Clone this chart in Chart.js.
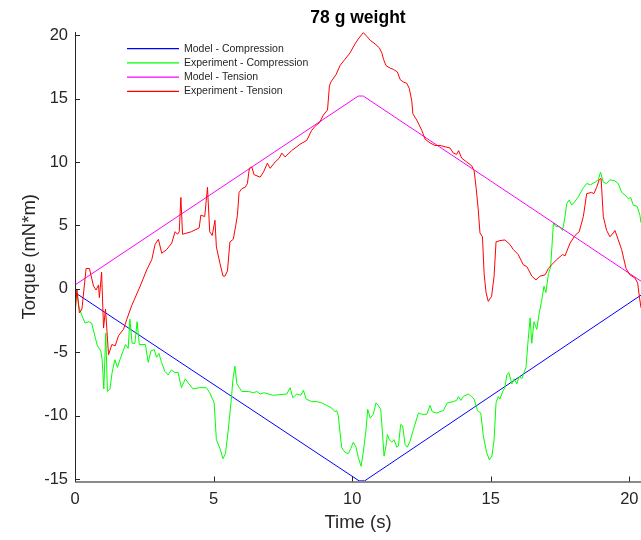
<!DOCTYPE html>
<html>
<head>
<meta charset="utf-8">
<script src="https://cdn.jsdelivr.net/npm/chart.js@4/dist/chart.umd.min.js"></script>
<style>
  html, body { margin: 0; padding: 0; background: #ffffff; }
  #wrap { width: 641px; height: 540px; }
</style>
</head>
<body>
<div id="wrap"><canvas id="c" width="641" height="540"></canvas></div>
<script>
// ---- Data ----
const titleText = "78 g weight";
const xLabel = "Time (s)";
const yLabel = "Torque (mN*m)";
const seriesNames = ["Model - Compression", "Experiment - Compression", "Model - Tension", "Experiment - Tension"];
const xTicks = [0, 5, 10, 15, 20];
const yTicks = [-15, -10, -5, 0, 5, 10, 15, 20];

const modelCompT = [0, 10.25, 10.45, 20.42];
const modelCompV = [-0.3, -15.15, -15.15, -0.5];

const modelTensT = [0, 10.22, 10.40, 20.42];
const modelTensV = [0.3, 15.2, 15.2, 0.6];

const expCompT = [0.00, 0.02, 0.09, 0.14, 0.23, 0.36, 0.50, 0.60, 0.69, 0.81, 0.93, 0.98, 1.04, 1.11, 1.17, 1.26, 1.34, 1.44, 1.53, 1.62,
  1.74, 1.82, 1.92, 1.98, 2.06, 2.16, 2.24, 2.32, 2.42, 2.54, 2.64, 2.74, 2.86, 2.94, 3.03, 3.12, 3.24, 3.36, 3.48, 3.60,
  3.72, 3.84, 3.98, 4.11, 4.26, 4.50, 4.74, 4.86, 5.02, 5.10, 5.23, 5.34, 5.43, 5.52, 5.59, 5.64, 5.70, 5.77, 5.84, 6.02,
  6.26, 6.44, 6.56, 6.68, 6.82, 6.98, 7.16, 7.64, 7.76, 7.86, 8.00, 8.15, 8.24, 8.34, 8.54, 8.72, 8.90, 9.08, 9.26, 9.38,
  9.44, 9.50, 9.56, 9.62, 9.74, 9.86, 9.95, 10.04, 10.14, 10.22, 10.32, 10.40, 10.50, 10.56, 10.65, 10.76, 10.86, 10.94, 11.03, 11.09,
  11.15, 11.22, 11.27, 11.34, 11.43, 11.51, 11.61, 11.67, 11.75, 11.82, 11.91, 11.99, 12.09, 12.21, 12.39, 12.51, 12.69, 12.81, 12.89, 13.05,
  13.29, 13.43, 13.65, 13.77, 13.83, 13.92, 14.01, 14.19, 14.31, 14.40, 14.52, 14.64, 14.73, 14.85, 14.95, 15.04, 15.12, 15.19, 15.27, 15.33,
  15.43, 15.51, 15.58, 15.65, 15.76, 15.84, 15.94, 16.03, 16.12, 16.20, 16.27, 16.35, 16.42, 16.48, 16.56, 16.66, 16.75, 16.84, 16.92, 16.99,
  17.08, 17.16, 17.26, 17.35, 17.47, 17.59, 17.68, 17.74, 17.83, 17.92, 18.04, 18.16, 18.32, 18.46, 18.60, 18.76, 18.88, 18.96, 19.06, 19.18,
  19.30, 19.48, 19.60, 19.72, 19.84, 19.96, 20.05, 20.14, 20.28, 20.38, 20.42];
const expCompV = [0.1, 0.05, -0.6, -1.4, -2.0, -2.7, -2.6, -2.7, -3.5, -4.5, -4.9, -5.6, -7.9, -3.5, -8.1, -7.9, -6.6, -5.6, -6.2, -5.6,
  -4.9, -4.4, -4.7, -2.4, -4.3, -4.3, -2.6, -4.4, -4.4, -4.4, -5.8, -4.9, -4.8, -5.4, -5.1, -5.8, -6.5, -6.8, -6.4, -6.6,
  -6.6, -7.8, -7.1, -7.5, -7.9, -7.8, -7.8, -8.2, -9.0, -11.9, -12.6, -13.4, -13.0, -11.3, -9.8, -8.7, -7.1, -6.1, -7.5, -8.1,
  -8.1, -8.2, -8.1, -8.3, -8.2, -8.3, -8.4, -8.3, -7.8, -8.6, -8.3, -8.4, -8.0, -8.7, -8.9, -8.9, -9.0, -9.2, -9.4, -9.7,
  -9.6, -10.0, -11.3, -12.5, -12.9, -13.0, -12.6, -12.1, -12.5, -13.3, -14.0, -12.9, -11.1, -9.5, -10.2, -9.9, -9.0, -9.2, -9.5, -11.3,
  -13.2, -12.4, -11.5, -11.9, -12.1, -11.9, -12.5, -12.4, -10.7, -10.8, -12.3, -12.5, -12.0, -11.1, -9.8, -9.9, -9.9, -9.2, -9.7, -9.8,
  -9.6, -9.0, -8.9, -8.8, -8.5, -8.8, -8.5, -8.3, -8.5, -8.7, -9.6, -9.8, -11.6, -12.9, -13.5, -13.2, -11.9, -9.0, -8.5, -8.7,
  -8.1, -7.8, -6.8, -6.6, -7.5, -7.1, -7.5, -6.9, -7.1, -6.6, -6.2, -4.0, -2.3, -4.3, -2.6, -3.2, -1.9, -0.9, 0.2, -0.3,
  1.2, 1.7, 5.2, 4.9, 4.9, 4.6, 5.7, 6.7, 7.0, 6.6, 6.9, 7.25, 7.9, 8.3, 8.2, 8.4, 8.6, 9.2, 8.4, 8.3,
  8.6, 8.5, 8.3, 7.6, 7.4, 7.1, 7.2, 6.6, 6.5, 5.8, 5.2];

const expTensT = [0.00, 0.07, 0.16, 0.25, 0.40, 0.52, 0.67, 0.76, 0.85, 0.88, 0.96, 1.03, 1.10, 1.21, 1.33, 1.45, 1.57, 1.75, 1.87, 2.05,
  2.13, 2.35, 2.59, 2.77, 2.89, 3.01, 3.13, 3.31, 3.49, 3.61, 3.70, 3.76, 3.82, 3.88, 4.20, 4.48, 4.54, 4.68, 4.78, 4.86,
  4.95, 5.05, 5.10, 5.23, 5.34, 5.41, 5.50, 5.59, 5.71, 5.80, 5.86, 5.92, 6.02, 6.14, 6.22, 6.29, 6.38, 6.46, 6.68, 6.80,
  6.94, 7.04, 7.22, 7.37, 7.46, 7.58, 7.82, 8.12, 8.36, 8.54, 8.70, 8.82, 8.96, 9.11, 9.18, 9.23, 9.42, 9.56, 9.74, 9.92,
  10.10, 10.22, 10.40, 10.53, 10.65, 10.83, 10.98, 11.07, 11.13, 11.22, 11.37, 11.49, 11.63, 11.73, 11.85, 11.97, 12.06, 12.15, 12.19, 12.33,
  12.51, 12.63, 12.81, 12.99, 13.17, 13.35, 13.53, 13.65, 13.77, 13.84, 13.95, 14.13, 14.31, 14.40, 14.47, 14.55, 14.61, 14.70, 14.76, 14.83,
  14.91, 15.03, 15.12, 15.19, 15.33, 15.51, 15.69, 15.81, 15.99, 16.17, 16.30, 16.48, 16.63, 16.78, 16.96, 17.08, 17.20, 17.38, 17.59, 17.68,
  17.86, 18.04, 18.19, 18.34, 18.46, 18.64, 18.72, 18.82, 18.91, 18.98, 19.06, 19.18, 19.30, 19.42, 19.48, 19.60, 19.72, 19.88, 20.02, 20.20,
  20.30, 20.36, 20.42];
const expTensV = [-2.0, -0.1, -1.9, -1.6, 1.6, 1.6, 0.2, -0.1, 0.3, -0.7, 1.3, -3.1, -1.6, -5.2, -4.4, -4.5, -3.7, -3.2, -2.4, -1.3,
  -0.9, 0.2, 1.5, 2.3, 3.5, 3.9, 2.8, 3.1, 3.6, 4.5, 4.3, 4.5, 7.2, 4.3, 4.5, 4.8, 5.8, 5.7, 8.0, 4.5,
  4.2, 5.4, 3.3, 2.0, 1.0, 1.0, 1.4, 3.7, 3.9, 5.0, 5.8, 7.6, 7.9, 8.0, 8.3, 9.5, 9.6, 9.0, 8.8, 9.2,
  9.9, 9.5, 10.0, 10.3, 10.7, 10.4, 10.9, 11.4, 11.7, 12.5, 12.9, 13.1, 13.7, 14.1, 16.0, 16.3, 16.9, 17.6, 18.1, 18.6,
  19.3, 19.7, 20.2, 19.9, 19.6, 19.3, 19.0, 18.6, 18.1, 17.6, 17.4, 17.3, 17.1, 16.5, 16.3, 16.2, 15.8, 14.8, 13.8, 13.3,
  12.5, 11.8, 11.5, 11.3, 11.3, 11.2, 11.1, 10.7, 10.6, 10.9, 10.3, 10.0, 9.7, 9.3, 8.0, 6.2, 4.4, 4.1, 1.2, -0.3,
  -1.0, -0.6, 1.0, 3.7, 3.8, 3.85, 3.5, 3.1, 2.7, 1.9, 1.75, 1.0, 0.7, 1.0, 1.1, 1.6, 1.9, 2.3, 2.7, 2.6,
  3.6, 4.2, 4.5, 5.7, 7.5, 7.6, 7.5, 8.0, 8.6, 8.7, 5.7, 4.6, 4.1, 4.4, 4.6, 3.85, 3.1, 1.6, 1.1, 0.85,
  0.45, -0.6, -1.5];

const seriesColors = ["#0000ff", "#00ff00", "#ff00ff", "#ff0000"];

function pts(t, v) { return t.map((x, i) => ({ x: x, y: v[i] })); }

const FONT = "'Liberation Sans', Arial, Helvetica, sans-serif";

const datasets = [
  { label: seriesNames[0], data: pts(modelCompT, modelCompV), borderColor: seriesColors[0], order: 3 },
  { label: seriesNames[1], data: pts(expCompT, expCompV), borderColor: seriesColors[1], order: 2 },
  { label: seriesNames[2], data: pts(modelTensT, modelTensV), borderColor: seriesColors[2], order: 1 },
  { label: seriesNames[3], data: pts(expTensT, expTensV), borderColor: seriesColors[3], order: 0 }
].map(d => Object.assign(d, { borderWidth: 1, pointRadius: 0, tension: 0, fill: false }));

const axesPlugin = {
  id: 'matlabAxes',
  afterDatasetsDraw(chart) {
    const ctx = chart.ctx;
    const ca = chart.chartArea;
    const xs = chart.scales.x, ys = chart.scales.y;
    ctx.save();
    // bottom axis
    ctx.strokeStyle = '#8a8a8a';
    ctx.lineWidth = 2;
    ctx.beginPath();
    ctx.moveTo(ca.left, ca.bottom + 0.5);
    ctx.lineTo(ca.right, ca.bottom + 0.5);
    ctx.stroke();
    // left axis
    ctx.strokeStyle = '#262626';
    ctx.lineWidth = 1;
    ctx.beginPath();
    ctx.moveTo(Math.round(ca.left) + 0.5, ca.top);
    ctx.lineTo(Math.round(ca.left) + 0.5, ca.bottom);
    ctx.stroke();
    // inward ticks
    ctx.beginPath();
    yTicks.forEach(v => {
      const py = Math.round(ys.getPixelForValue(v)) + 0.5;
      ctx.moveTo(ca.left, py);
      ctx.lineTo(ca.left + 5, py);
    });
    xTicks.forEach(v => {
      const px = Math.round(xs.getPixelForValue(v)) + 0.5;
      ctx.moveTo(px, ca.bottom);
      ctx.lineTo(px, ca.bottom - 5);
    });
    ctx.stroke();
    // legend (inside, top-left, no box)
    const rowY = [48.7, 62.9, 77.1, 91.3];
    ctx.font = "10.5px " + FONT;
    ctx.textBaseline = 'middle';
    ctx.textAlign = 'left';
    seriesNames.forEach((name, i) => {
      const y = rowY[i];
      ctx.beginPath();
      ctx.strokeStyle = seriesColors[i];
      ctx.lineWidth = 1.2;
      ctx.moveTo(127, y);
      ctx.lineTo(179, y);
      ctx.stroke();
      ctx.fillStyle = '#262626';
      ctx.fillText(name, 184, y);
    });
    ctx.restore();
  }
};

new Chart(document.getElementById('c'), {
  type: 'line',
  data: { datasets: datasets },
  plugins: [axesPlugin],
  options: {
    responsive: false,
    animation: false,
    devicePixelRatio: 1,
    layout: { padding: 0 },
    plugins: {
      legend: { display: false },
      tooltip: { enabled: false },
      title: {
        display: true,
        text: titleText,
        fullSize: false,
        color: '#000000',
        font: { family: FONT, size: 17.5, weight: 'bold' },
        padding: { top: 8, bottom: 3 }
      }
    },
    scales: {
      x: {
        type: 'linear',
        min: 0,
        max: 20.42,
        afterFit(s) { s.height = 58.5; s.paddingLeft = 0; s.paddingRight = 0; },
        afterBuildTicks(s) { s.ticks = xTicks.map(v => ({ value: v })); },
        grid: { display: false, drawTicks: false, tickLength: 0 },
        border: { display: false },
        ticks: { color: '#262626', font: { family: FONT, size: 16.5 }, padding: 8, maxRotation: 0, autoSkip: false },
        title: { display: true, text: xLabel, color: '#262626', font: { family: FONT, size: 18.5 }, padding: { top: 0, bottom: 6 } }
      },
      y: {
        type: 'linear',
        min: -15.2,
        max: 20.25,
        afterFit(s) { s.width = 75; s.paddingTop = 0; s.paddingBottom = 0; },
        afterBuildTicks(s) { s.ticks = yTicks.map(v => ({ value: v })); },
        grid: { display: false, drawTicks: false, tickLength: 0 },
        border: { display: false },
        ticks: { color: '#262626', font: { family: FONT, size: 16.5 }, padding: 7, autoSkip: false },
        title: { display: true, text: yLabel, color: '#262626', font: { family: FONT, size: 18.5 }, padding: { top: 19, bottom: 0 } }
      }
    }
  }
});
</script>
</body>
</html>
